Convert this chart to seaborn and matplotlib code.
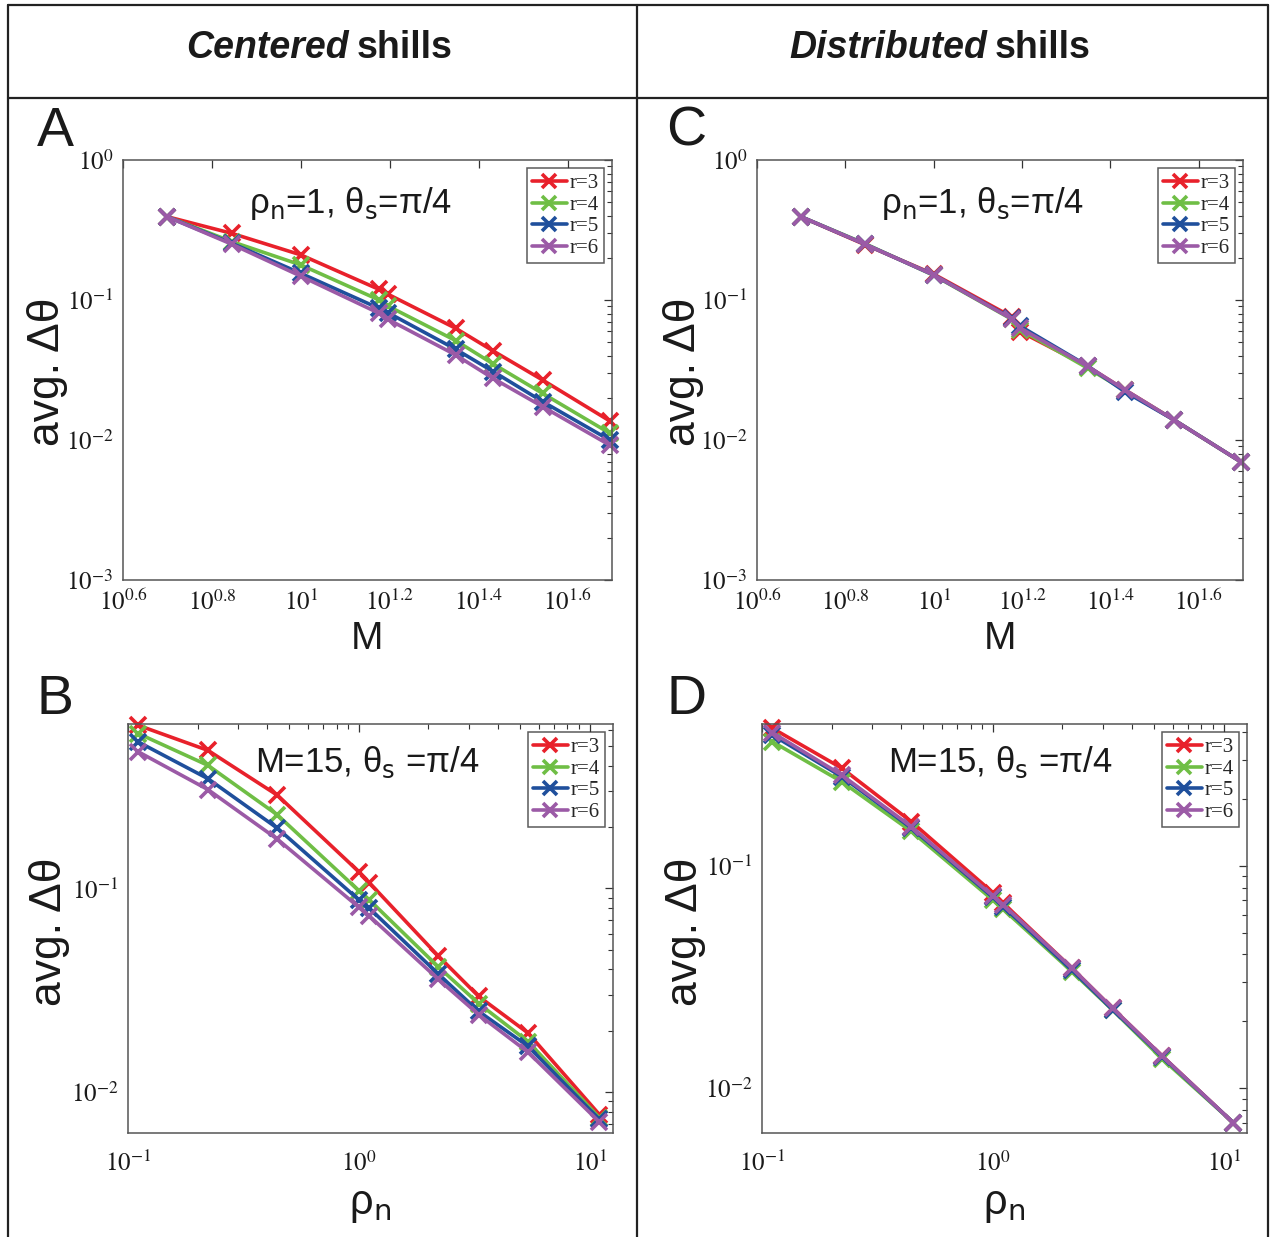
import numpy as np
import pandas as pd
import matplotlib
matplotlib.use('Agg')
import matplotlib.pyplot as plt
import seaborn as sns
from matplotlib.lines import Line2D
from matplotlib.ticker import FixedLocator, NullLocator, LogLocator, FixedFormatter, FuncFormatter

sns.set_style('white')
plt.rcParams['font.family'] = ['Liberation Sans', 'DejaVu Sans']
plt.rcParams['mathtext.fontset'] = 'stix'

# ---------------- data ----------------
r_labels = ['r=3', 'r=4', 'r=5', 'r=6']
colors = ['#e8212b', '#6fbe45', '#1f4f9c', '#9b5aa6']

M_vals = [5, 7, 10, 15, 15.7, 22.3, 27.1, 35, 49.5]
rho_vals = [0.111, 0.222, 0.444, 1.0, 1.11, 2.2, 3.3, 5.4, 11.0]

A_r3 = [0.394, 0.299, 0.210, 0.119, 0.110, 0.0628, 0.0432, 0.0268, 0.0137]
A_r4 = [0.394, 0.261, 0.178, 0.100, 0.0906, 0.0513, 0.0349, 0.0215, 0.0112]
A_r5 = [0.394, 0.254, 0.155, 0.0871, 0.0812, 0.0445, 0.0308, 0.0188, 0.0100]
A_r6 = [0.394, 0.250, 0.148, 0.0804, 0.0728, 0.0405, 0.0275, 0.0173, 0.0092]

C_r3 = [0.394, 0.248, 0.153, 0.076, 0.0594, 0.0335, 0.0228, 0.0139, 0.0070]
C_r4 = [0.394, 0.252, 0.150, 0.073, 0.0615, 0.0326, 0.0226, 0.0139, 0.0070]
C_r5 = [0.394, 0.250, 0.151, 0.074, 0.0650, 0.0338, 0.0221, 0.0139, 0.0070]
C_r6 = [0.394, 0.250, 0.151, 0.0735, 0.0630, 0.0336, 0.0228, 0.0139, 0.0070]

B_r3 = [0.63, 0.475, 0.286, 0.1205, 0.1065, 0.0467, 0.0295, 0.0195, 0.00776]
B_r4 = [0.574, 0.401, 0.229, 0.0973, 0.0877, 0.0413, 0.0272, 0.0177, 0.00748]
B_r5 = [0.522, 0.345, 0.197, 0.0877, 0.0798, 0.0381, 0.0249, 0.0168, 0.00734]
B_r6 = [0.467, 0.305, 0.174, 0.0807, 0.0731, 0.0359, 0.0240, 0.0157, 0.00713]

D_r3 = [0.416, 0.275, 0.158, 0.0758, 0.0680, 0.0347, 0.0229, 0.0140, 0.0070]
D_r4 = [0.362, 0.239, 0.143, 0.0703, 0.0638, 0.0335, 0.0225, 0.0136, 0.0070]
D_r5 = [0.388, 0.252, 0.148, 0.0723, 0.0656, 0.0340, 0.0226, 0.0139, 0.0070]
D_r6 = [0.398, 0.256, 0.150, 0.0733, 0.0668, 0.0347, 0.0229, 0.0140, 0.0070]

M_ticks = [0.6, 0.8, 1.0, 1.2, 1.4, 1.6]
M_tick_labels = ['$10^{0.6}$', '$10^{0.8}$', '$10^{1}$', '$10^{1.2}$', '$10^{1.4}$', '$10^{1.6}$']

W, H = 1273, 1237
fig = plt.figure(figsize=(W / 100, H / 100), dpi=100)


def fx(x):
    return x / W


def fy(y):
    return 1 - y / H


def rect(l, t, r, b):
    return [fx(l), fy(b), (r - l) / W, (b - t) / H]


def make_df(xv, series):
    rows = []
    for lab, ys in zip(r_labels, series):
        for x, y in zip(xv, ys):
            rows.append({'x': x, 'y': y, 'r': lab})
    return pd.DataFrame(rows)


def log_fmt(v, pos):
    e = int(round(np.log10(v)))
    return '$10^{%d}$' % e


def draw_panel(box, xv, series, xlim, ylim, note, kind):
    ax = fig.add_axes(rect(*box))
    df = make_df(xv, series)
    sns.lineplot(data=df, x='x', y='y', hue='r', palette=colors, hue_order=r_labels,
                 estimator=None, sort=False, marker='x', markersize=11, markeredgewidth=2.6,
                 linewidth=2.6, legend=False, ax=ax)
    for ln in ax.get_lines():
        ln.set_markeredgecolor(ln.get_color())
        ln.set_markerfacecolor(ln.get_color())
        ln.set_clip_on(False)
    ax.set_xscale('log')
    ax.set_yscale('log')
    ax.set_xlim(*xlim)
    ax.set_ylim(*ylim)
    ax.set_xlabel('')
    ax.set_ylabel('')
    if kind == 'M':
        ax.xaxis.set_major_locator(FixedLocator([10 ** t for t in M_ticks]))
        ax.xaxis.set_major_formatter(FixedFormatter(M_tick_labels))
        ax.xaxis.set_minor_locator(NullLocator())
    else:
        ax.xaxis.set_major_locator(LogLocator(base=10))
        ax.xaxis.set_minor_locator(LogLocator(base=10, subs=np.arange(2, 10)))
        ax.xaxis.set_major_formatter(FuncFormatter(log_fmt))
    ax.xaxis.set_minor_formatter(plt.NullFormatter())
    ax.yaxis.set_major_locator(LogLocator(base=10))
    ax.yaxis.set_minor_locator(LogLocator(base=10, subs=np.arange(2, 10)))
    ax.yaxis.set_major_formatter(FuncFormatter(log_fmt))
    ax.yaxis.set_minor_formatter(plt.NullFormatter())
    ax.tick_params(which='both', direction='in', top=True, right=True,
                   colors='#333333', labelcolor='#1a1a1a', labelsize=18)
    ax.tick_params(which='major', length=6, width=0.9, pad=7)
    ax.tick_params(which='minor', length=3.5, width=0.8)
    if kind != 'M':
        ax.tick_params(axis='x', which='major', pad=13)
    for s in ax.spines.values():
        s.set_color('#555555')
        s.set_linewidth(1.1)
        s.set_visible(True)
    handles = [Line2D([], [], color=c, lw=2.6, marker='x', markersize=10, markeredgewidth=2.6)
               for c in colors]
    leg = ax.legend(handles, r_labels, loc='upper right', frameon=True, fancybox=False,
                    prop={'family': 'Liberation Serif', 'size': 15}, handlelength=1.7,
                    handletextpad=0.1, labelspacing=0.1, borderpad=0.25, borderaxespad=0.4)
    leg.get_frame().set_edgecolor('#333333')
    leg.get_frame().set_linewidth(1.1)
    ax.text(note[0], note[1], note[2], transform=ax.transAxes, ha='center', va='baseline',
            fontsize=25, color='#1a1a1a', math_fontfamily='dejavusans')
    return ax


xlim_M = (10 ** 0.6, 10 ** 1.7)
axA = draw_panel((123, 160, 612, 580), M_vals, [A_r3, A_r4, A_r5, A_r6], xlim_M, (1e-3, 1),
                 (0.466, 0.874, 'ρ$_\\mathrm{n}$=1, θ$_\\mathrm{s}$=π/4'), 'M')
axC = draw_panel((757, 160, 1243, 580), M_vals, [C_r3, C_r4, C_r5, C_r6], xlim_M, (1e-3, 1),
                 (0.463, 0.874, 'ρ$_\\mathrm{n}$=1, θ$_\\mathrm{s}$=π/4'), 'M')
axB = draw_panel((128, 724, 613, 1133), rho_vals, [B_r3, B_r4, B_r5, B_r6], (0.1, 12.6), (0.0063, 0.64),
                 (0.493, 0.883, 'M=15, θ$_\\mathrm{s}$ =π/4'), 'rho')
axD = draw_panel((762, 724, 1247, 1133), rho_vals, [D_r3, D_r4, D_r5, D_r6], (0.1, 12.6), (0.0063, 0.435),
                 (0.491, 0.883, 'M=15, θ$_\\mathrm{s}$ =π/4'), 'rho')

# axis labels
for ax in (axA, axC):
    ax.set_xlabel('M', fontsize=28, labelpad=4, color='#1a1a1a')
for ax in (axB, axD):
    ax.set_xlabel('ρ$_\\mathrm{n}$', fontsize=30, labelpad=6, color='#1a1a1a', math_fontfamily='dejavusans')

for (x, y) in [(47, 372), (50, 932), (683, 372), (685, 932)]:
    fig.text(fx(x), fy(y), 'avg. Δθ', rotation=90, ha='center', va='center', fontsize=32, color='#1a1a1a')

for (x, y, t) in [(55, 132, 'A'), (55, 700, 'B'), (686, 132, 'C'), (686, 700, 'D')]:
    fig.text(fx(x), fy(y), t, ha='center', va='center', fontsize=40, color='#1a1a1a')

# headers
fig.text(fx(349), fy(48), 'Centered', ha='right', va='center', fontsize=27, fontweight='bold',
         fontstyle='italic', color='#1a1a1a')
fig.text(fx(357), fy(48), 'shills', ha='left', va='center', fontsize=27, fontweight='bold', color='#1a1a1a')
fig.text(fx(987), fy(48), 'Distributed', ha='right', va='center', fontsize=27, fontweight='bold',
         fontstyle='italic', color='#1a1a1a')
fig.text(fx(995), fy(48), 'shills', ha='left', va='center', fontsize=27, fontweight='bold', color='#1a1a1a')

# table lines
line_kw = dict(color='#222222', linewidth=1.6, transform=fig.transFigure)
fig.add_artist(Line2D([fx(8), fx(1268)], [fy(5), fy(5)], **line_kw))
fig.add_artist(Line2D([fx(8), fx(1268)], [fy(98), fy(98)], **line_kw))
fig.add_artist(Line2D([fx(8), fx(8)], [fy(5), fy(1237)], **line_kw))
fig.add_artist(Line2D([fx(637), fx(637)], [fy(5), fy(1237)], **line_kw))
fig.add_artist(Line2D([fx(1268), fx(1268)], [fy(5), fy(1237)], **line_kw))

fig.savefig('out.png', dpi=100, facecolor='white')
